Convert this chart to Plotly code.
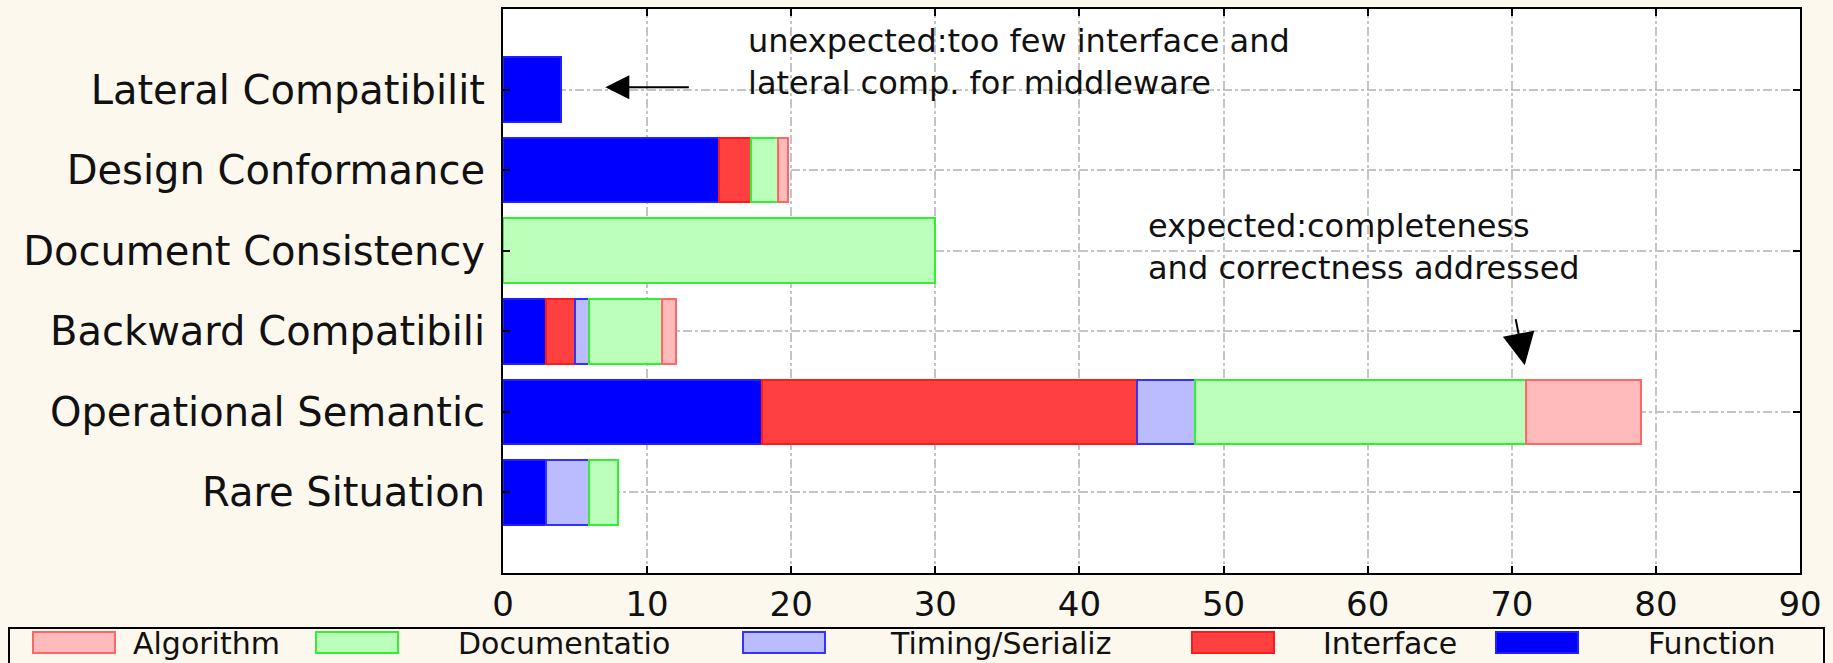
import plotly.graph_objects as go

# ---------------- data ----------------
categories = ["Rare Situation", "Operational Semantic", "Backward Compatibili",
              "Document Consistency", "Design Conformance", "Lateral Compatibilit"]
function_vals = [3, 18, 3, 0, 15, 4]
interface_vals = [0, 26, 2, 0, 2.2, 0]
timing_vals = [3, 4, 1, 0, 0, 0]
documentation_vals = [2, 23, 5, 30, 1.9, 0]
algorithm_vals = [0, 8, 1, 0, 0.7, 0]
x_ticks = [0, 10, 20, 30, 40, 50, 60, 70, 80, 90]
legend_labels = ["Algorithm", "Documentatio", "Timing/Serializ", "Interface", "Function"]

# ---------------- styles ----------------
FONT = "DejaVu Sans, Arial, sans-serif"
CREAM = "#FDF8EE"
styles = {
    "Function": dict(fill="#0000FF", line="#2020FF"),
    "Interface": dict(fill="#FF4040", line="#FF1A1A"),
    "Timing/Serializ": dict(fill="#BBBBFF", line="#3333FF"),
    "Documentatio": dict(fill="#BBFFBB", line="#33EE33"),
    "Algorithm": dict(fill="#FFBBBB", line="#FF6666"),
}

series = [
    ("Function", function_vals),
    ("Interface", interface_vals),
    ("Timing/Serializ", timing_vals),
    ("Documentatio", documentation_vals),
    ("Algorithm", algorithm_vals),
]

fig = go.Figure()
for name, vals in series:
    st = styles[name]
    fig.add_trace(go.Bar(
        y=categories, x=[v if v else None for v in vals], orientation="h", name=name, width=0.8,
        marker=dict(color=st["fill"], line=dict(color=st["line"], width=2)),
        showlegend=False,
    ))

# plot geometry (px) for paper-coordinate legend
W, H = 1833, 663
ML, MR, MT, MB = 503, 33, 9, 90
PW, PH = W - ML - MR, H - MT - MB


def px_to_paper_x(px):
    return (px - ML) / PW


def px_to_paper_y(py):
    return (H - MB - py) / PH


shapes = []
annotations = []

# legend frame
shapes.append(dict(type="rect", xref="paper", yref="paper",
                   x0=px_to_paper_x(9), x1=px_to_paper_x(1824),
                   y0=px_to_paper_y(680), y1=px_to_paper_y(628),
                   line=dict(color="black", width=2), fillcolor=CREAM, layer="above"))

legend_swatch_x = [33, 316, 743, 1192, 1496]
legend_text_x = [131, 456, 888, 1321, 1646]
for lbl, sx, tx in zip(legend_labels, legend_swatch_x, legend_text_x):
    st = styles[lbl]
    annotations.append(dict(xref="paper", yref="paper", x=px_to_paper_x(tx), y=px_to_paper_y(643),
                            xanchor="left", yanchor="middle", text=lbl, showarrow=False,
                            font=dict(family=FONT, size=30, color="#111")))
    shapes.append(dict(type="rect", xref="paper", yref="paper",
                       x0=px_to_paper_x(sx), x1=px_to_paper_x(sx + 82),
                       y0=px_to_paper_y(653), y1=px_to_paper_y(632),
                       line=dict(color=st["line"], width=2), fillcolor=st["fill"], layer="above"))

# chart annotations
ann_font = dict(family=FONT, size=32, color="#111")
annotations += [
    dict(x=16.85, y=5.34, xref="x", yref="y", xanchor="left", yanchor="middle", align="left",
         text="unexpected:too few interface and<br>lateral comp. for middleware",
         showarrow=False, font=ann_font),
    dict(x=44.6, y=3.05, xref="x", yref="y", xanchor="left", yanchor="middle", align="left",
         text="expected:completeness<br>and correctness addressed",
         showarrow=False, font=ann_font),
    dict(x=7.1, y=5.03, ax=13.0, ay=5.03, xref="x", yref="y", axref="x", ayref="y",
         text="", showarrow=True, arrowhead=2, arrowsize=2.4, arrowwidth=2, arrowcolor="black"),
    dict(x=70.9, y=1.58, ax=70.25, ay=2.17, xref="x", yref="y", axref="x", ayref="y",
         text="", showarrow=True, arrowhead=2, arrowsize=3.2, arrowwidth=2, arrowcolor="black"),
]

axis_common = dict(
    showgrid=True, gridcolor="#c4c4c4", gridwidth=1.5, griddash="dashdot",
    showline=True, linecolor="black", linewidth=2, mirror="ticks",
    ticks="inside", ticklen=7, tickwidth=2, tickcolor="black", zeroline=False,
    automargin=False,
)

fig.update_layout(
    width=W, height=H,
    margin=dict(l=ML, r=MR, t=MT, b=MB, pad=0, autoexpand=False),
    paper_bgcolor=CREAM, plot_bgcolor="white",
    barmode="stack", bargap=0.2,
    font=dict(family=FONT, color="#111"),
    xaxis=dict(range=[0, 90], tickvals=x_ticks, ticktext=[str(v) for v in x_ticks],
               tickfont=dict(family=FONT, size=34, color="#111"), **axis_common),
    yaxis=dict(type="category", categoryorder="array", categoryarray=categories,
               range=[-1, 6], tickfont=dict(family=FONT, size=40, color="#111"),
               ticklabelstandoff=8, **axis_common),
    shapes=shapes, annotations=annotations,
    showlegend=False,
)

fig.write_html(
    "out.html",
    config={"displayModeBar": False},
    post_script="document.body.style.margin='0';document.body.style.padding='0';"
                "document.body.style.overflow='hidden';",
)
